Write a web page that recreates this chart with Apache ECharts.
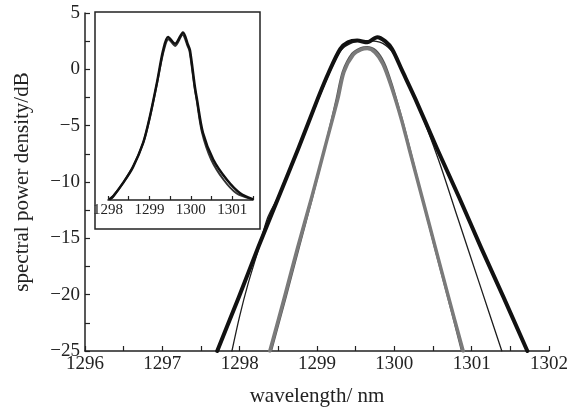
<!DOCTYPE html>
<html><head><meta charset="utf-8">
<script src="https://cdn.jsdelivr.net/npm/echarts@6/dist/echarts.min.js"></script>
<style>html,body{margin:0;padding:0;background:#fff}#c{width:571px;height:412px}</style>
</head><body><div id="c"></div>
<script>
// Main chart: wavelength (nm) vs spectral power density (dB)
const broadMeasured = [[1297.71,-25],[1297.99,-20.2],[1298.24,-15.8],[1298.5,-11.4],[1298.76,-7.0],[1299.01,-2.6],[1299.15,-0.3],[1299.3,1.8],[1299.4,2.4],[1299.52,2.55],[1299.65,2.4],[1299.78,2.85],[1299.88,2.5],[1299.97,1.8],[1300.1,-0.1],[1300.27,-2.6],[1300.55,-7.0],[1300.84,-11.4],[1301.12,-15.8],[1301.41,-20.2],[1301.72,-25]];
const broadSimulated = [[1297.9,-25],[1298.0,-21.9],[1298.11,-19.0],[1298.24,-16.05],[1298.36,-13.2],[1298.49,-11.4],[1298.76,-7.1],[1299.01,-2.8],[1299.15,-0.5],[1299.3,1.6],[1299.45,2.35],[1299.65,2.55],[1299.85,2.3],[1300.0,1.3],[1300.15,-0.8],[1300.3,-3.1],[1300.57,-8.0],[1300.82,-13.2],[1301.1,-19.0],[1301.39,-25]];
const narrowMeasured = [[1298.39,-25],[1298.58,-20.2],[1298.75,-15.8],[1298.93,-11.4],[1299.1,-7.0],[1299.27,-2.6],[1299.35,-0.2],[1299.47,1.3],[1299.57,1.75],[1299.65,1.85],[1299.75,1.5],[1299.85,0.5],[1299.95,-1.3],[1300.09,-4.4],[1300.19,-7.0],[1300.36,-11.4],[1300.53,-15.8],[1300.7,-20.2],[1300.89,-25]];
const narrowSimulated = [[1298.41,-25],[1298.6,-20.2],[1298.77,-15.8],[1298.94,-11.4],[1299.1,-7.0],[1299.25,-2.6],[1299.33,-0.2],[1299.45,1.4],[1299.56,1.9],[1299.65,2.0],[1299.76,1.7],[1299.87,0.6],[1299.97,-1.3],[1300.1,-4.4],[1300.2,-7.0],[1300.36,-11.4],[1300.52,-15.8],[1300.69,-20.2],[1300.87,-25]];
// Inset
const insetMeasured = [[1298.05,-11.9],[1298.12,-11.7],[1298.36,-10.5],[1298.6,-9.1],[1298.85,-6.9],[1299.01,-4.6],[1299.18,-1.6],[1299.33,1.3],[1299.45,2.5],[1299.62,1.9],[1299.81,2.9],[1299.93,1.8],[1299.98,1.3],[1300.1,-2.0],[1300.15,-3.1],[1300.29,-6.0],[1300.54,-8.4],[1300.87,-10.2],[1301.19,-11.4],[1301.48,-11.9]];
const insetSimulated = [[1298.05,-11.9],[1298.14,-11.6],[1298.38,-10.4],[1298.62,-8.9],[1298.86,-6.8],[1299.02,-4.5],[1299.19,-1.5],[1299.34,1.2],[1299.46,2.3],[1299.62,1.7],[1299.8,2.7],[1299.92,1.7],[1299.97,1.2],[1300.09,-2.0],[1300.14,-3.1],[1300.27,-6.0],[1300.49,-8.4],[1300.79,-10.2],[1301.1,-11.4],[1301.45,-11.9]];

const serif = "'Liberation Serif','DejaVu Serif',serif";
const minus = v => String(v).replace('-', '\u2212');
const chart = echarts.init(document.getElementById('c'), null, {renderer:'canvas'});
function line(data, color, width, x, y, z){
  return {type:'line', data, xAxisIndex:x, yAxisIndex:y, showSymbol:false, symbol:'none',
    smooth:0.3, lineStyle:{color, width, join:'round', cap:'round'}, z, silent:true, clip:true};
}
chart.setOption({
  animation:false,
  backgroundColor:'#fff',
  grid:[
    {left:85, right:22, top:13, bottom:57},
    {left:108, right:318, top:20, bottom:212}
  ],
  graphic:[{type:'rect', shape:{x:95, y:12, width:165, height:217}, style:{fill:'none', stroke:'#222', lineWidth:1.5}, z:10}],
  xAxis:[
    {type:'value', gridIndex:0, min:1296, max:1302, interval:1,
     name:'wavelength/ nm', nameLocation:'middle', nameGap:35,
     nameTextStyle:{fontFamily:serif, fontSize:21, color:'#222'},
     axisLine:{onZero:false, lineStyle:{color:'#222', width:1.5}},
     axisTick:{inside:true, length:5, lineStyle:{color:'#222', width:1.2}},
     minorTick:{show:true, splitNumber:2, length:5, lineStyle:{color:'#222', width:1.2}},
     splitLine:{show:false},
     axisLabel:{fontFamily:serif, fontSize:19, color:'#222', margin:4, formatter:v => String(v)}},
    {type:'value', gridIndex:1, min:1298, max:1301.5, interval:0.5,
     axisLine:{onZero:false, lineStyle:{color:'#222', width:1.5}},
     axisTick:{inside:true, length:4, lineStyle:{color:'#222', width:1.2}},
     splitLine:{show:false},
     axisLabel:{fontFamily:serif, fontSize:15, color:'#222', margin:3,
       formatter:v => (Math.abs(v - Math.round(v)) < 1e-6 ? String(v) : '')}}
  ],
  yAxis:[
    {type:'value', gridIndex:0, min:-25, max:5, interval:5,
     name:'spectral power density/dB', nameLocation:'middle', nameGap:52, nameRotate:90,
     nameTextStyle:{fontFamily:serif, fontSize:21, color:'#222'},
     axisLine:{show:true, onZero:false, lineStyle:{color:'#222', width:1.5}},
     axisTick:{inside:true, length:5, lineStyle:{color:'#222', width:1.2}},
     minorTick:{show:true, splitNumber:2, length:5, lineStyle:{color:'#222', width:1.2}},
     splitLine:{show:false},
     axisLabel:{fontFamily:serif, fontSize:19, color:'#222', margin:5, formatter:minus}},
    {type:'value', gridIndex:1, min:-12, max:4, show:false}
  ],
  series:[
    line(broadSimulated, '#1e1e1e', 1.3, 0, 0, 3),
    line(narrowSimulated, '#5a5a5a', 1.6, 0, 0, 2),
    line(narrowMeasured, '#7a7a7a', 3.5, 0, 0, 2),
    line(broadMeasured, '#111', 4, 0, 0, 3),
    line(insetSimulated, '#333', 2, 1, 1, 3),
    line(insetMeasured, '#111', 2.5, 1, 1, 3)
  ]
});
</script></body></html>
